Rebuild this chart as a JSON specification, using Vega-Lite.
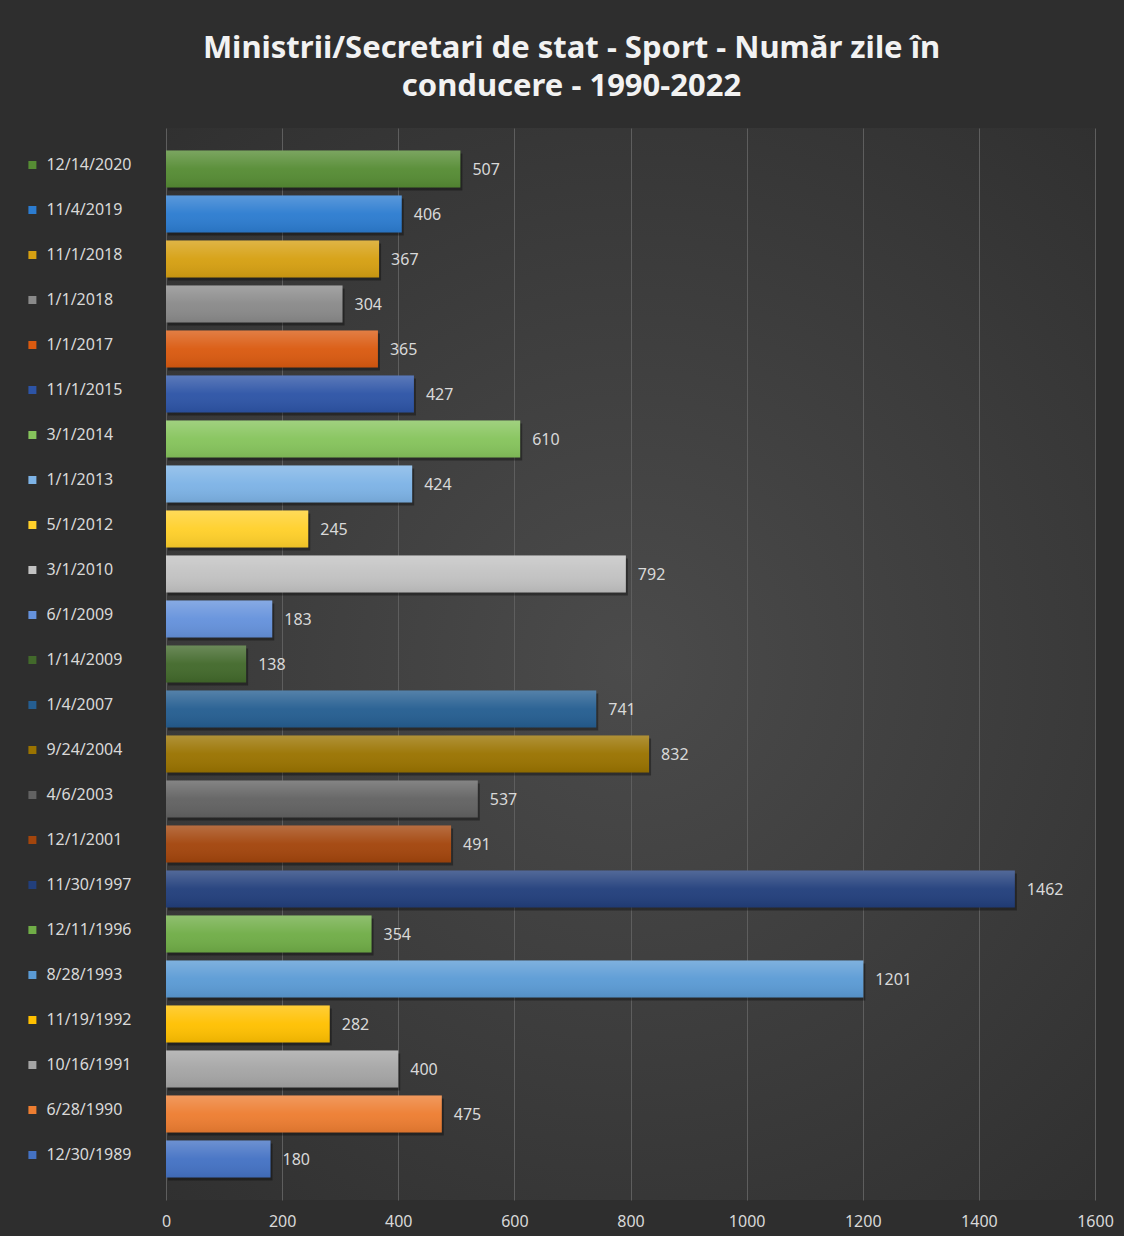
{
  "$schema": "https://vega.github.io/schema/vega-lite/v6.json",
  "autosize": {"type": "none"},
  "padding": {"left": 166, "top": 128, "right": 29, "bottom": 36},
  "width": 929,
  "height": 1072,
  "background": "#2e2e2e",
  "config": {
    "view": {"stroke": null, "fill": {"gradient": "radial", "x1": 0.5, "y1": 0.5, "r1": 0, "x2": 0.5, "y2": 0.5, "r2": 0.72, "stops": [{"offset": 0, "color": "#4b4b4b"}, {"offset": 1, "color": "#2e2e2e"}]}},
    "font": "Noto Sans"
  },
  "title": {
    "text": ["Ministrii/Secretari de stat - Sport - Număr zile în", "conducere - 1990-2022"],
    "font": "Noto Sans",
    "fontSize": 31,
    "fontWeight": "bold",
    "color": "#f2f2f2",
    "lineHeight": 38,
    "anchor": "middle",
    "frame": "group",
    "dx": -59,
    "offset": 25
  },
  "data": {
    "values": [
      {"date": "12/14/2020", "zile": 507},
      {"date": "11/4/2019", "zile": 406},
      {"date": "11/1/2018", "zile": 367},
      {"date": "1/1/2018", "zile": 304},
      {"date": "1/1/2017", "zile": 365},
      {"date": "11/1/2015", "zile": 427},
      {"date": "3/1/2014", "zile": 610},
      {"date": "1/1/2013", "zile": 424},
      {"date": "5/1/2012", "zile": 245},
      {"date": "3/1/2010", "zile": 792},
      {"date": "6/1/2009", "zile": 183},
      {"date": "1/14/2009", "zile": 138},
      {"date": "1/4/2007", "zile": 741},
      {"date": "9/24/2004", "zile": 832},
      {"date": "4/6/2003", "zile": 537},
      {"date": "12/1/2001", "zile": 491},
      {"date": "11/30/1997", "zile": 1462},
      {"date": "12/11/1996", "zile": 354},
      {"date": "8/28/1993", "zile": 1201},
      {"date": "11/19/1992", "zile": 282},
      {"date": "10/16/1991", "zile": 400},
      {"date": "6/28/1990", "zile": 475},
      {"date": "12/30/1989", "zile": 180}
    ]
  },
  "encoding": {
    "y": {"field": "date", "type": "nominal", "sort": null, "axis": null,
      "scale": {"paddingInner": 0.18, "paddingOuter": 0.5}},
    "x": {"field": "zile", "type": "quantitative",
      "scale": {"domain": [0, 1600], "nice": false},
      "axis": {"title": null, "values": [0, 200, 400, 600, 800, 1000, 1200, 1400, 1600], "format": "d",
        "domain": false, "ticks": false, "grid": true, "gridColor": "#5e5e5e", "gridWidth": 1,
        "labelFlush": false,
        "labelColor": "#d9d9d9", "labelFont": "Noto Sans", "labelFontSize": 16, "labelPadding": 13}}
  },
  "layer": [
    {
      "mark": {"type": "bar", "color": "#000000", "opacity": 0.35, "xOffset": 2, "yOffset": 3},
      "encoding": {}
    },
    {
      "mark": {"type": "bar"},
      "encoding": {
        "color": {"field": "date", "type": "nominal", "sort": null,
          "scale": {"range": ["#568c34", "#2c7cd0", "#d6a012", "#8a8a8a", "#da5a10", "#2d54a6", "#86c45c", "#7db3e6", "#ffd02a", "#c2c2c2", "#6592dc", "#42692b", "#255e91", "#9a7300", "#626262", "#a3450c", "#223f7c", "#70ad47", "#5b9bd5", "#ffc000", "#a5a5a5", "#ed7d31", "#4472c4"]},
          "legend": {"title": null, "orient": "left", "offset": 20, "padding": 14.4,
            "symbolType": "square", "symbolSize": 64, "symbolStrokeWidth": 0,
            "labelFont": "Noto Sans", "labelFontSize": 16, "labelColor": "#d9d9d9", "labelOffset": 6, "labelLimit": 200,
            "clipHeight": 44.96, "rowPadding": 0}}
      }
    },
    {
      "mark": {"type": "bar", "fill": {"gradient": "linear", "x1": 0, "y1": 0, "x2": 0, "y2": 1, "stops": [{"offset": 0, "color": "rgba(255,255,255,0.22)"}, {"offset": 0.5, "color": "rgba(255,255,255,0.04)"}, {"offset": 1, "color": "rgba(0,0,0,0.08)"}]}},
      "encoding": {}
    },
    {
      "mark": {"type": "text", "align": "left", "baseline": "middle", "dx": 12, "dy": 1, "font": "Noto Sans", "fontSize": 16, "color": "#d9d9d9"},
      "encoding": {"text": {"field": "zile", "type": "quantitative"}}
    }
  ]
}
